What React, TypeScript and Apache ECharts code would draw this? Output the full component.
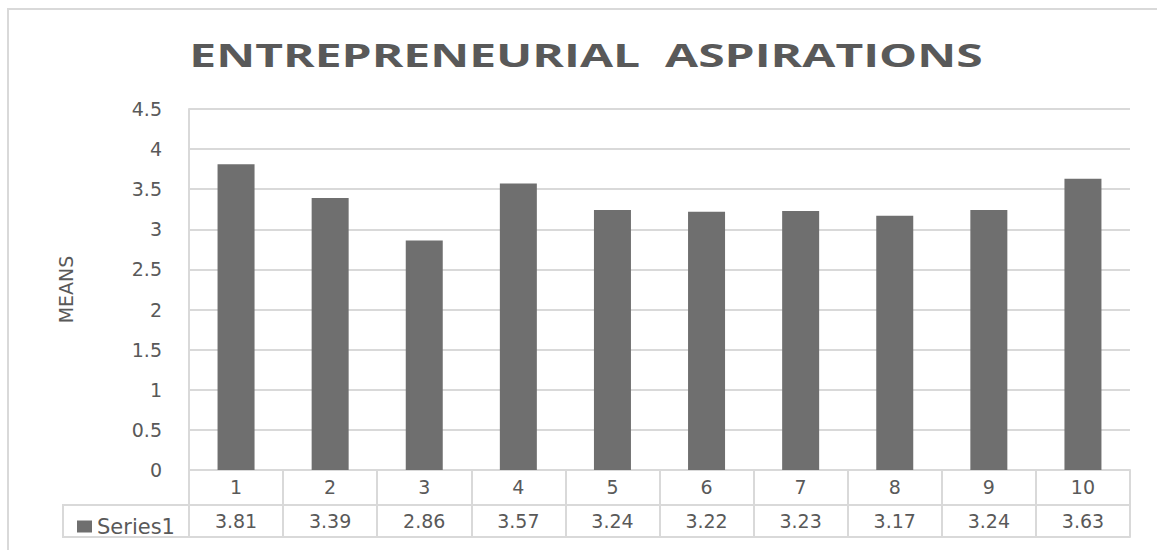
import React, { useEffect, useRef } from "react";
import * as echarts from "echarts";

const categories = ["1", "2", "3", "4", "5", "6", "7", "8", "9", "10"];
const values = [3.81, 3.39, 2.86, 3.57, 3.24, 3.22, 3.23, 3.17, 3.24, 3.63];
const seriesName = "Series1";
const titleText = "ENTREPRENEURIAL  ASPIRATIONS";
const yAxisName = "MEANS";

const W = 1157;
const H = 550;
const GRID_LEFT = 189;
const GRID_RIGHT = 27;
const GRID_TOP = 109;
const GRID_BOTTOM = 80;
const ROW_H = 35;
const ROW2_H = 32;
const TABLE_LEFT = 63;
const TEXT = "#595959";
const LINE = "#d9d9d9";
const BAR = "#6f6f6f";
const FONT = "'DejaVu Sans', 'Open Sans', sans-serif";
const TITLE_FONT = "'Open Sans', 'Noto Sans', sans-serif";
const FS = 19;

export default function App() {
  const ref = useRef<HTMLDivElement>(null);
  useEffect(() => {
    if (!ref.current) return;
    const chart = echarts.init(ref.current, null, { renderer: "svg" });
    const axisY = H - GRID_BOTTOM;
    const row2Top = axisY + ROW_H;
    const row2Bottom = row2Top + ROW2_H;
    chart.setOption({
      animation: false,
      backgroundColor: "#ffffff",
      textStyle: { fontFamily: FONT },
      grid: {
        left: GRID_LEFT,
        right: GRID_RIGHT,
        top: GRID_TOP,
        bottom: GRID_BOTTOM,
        containLabel: false,
        outerBoundsMode: "none",
      },
      legend: {
        show: true,
        data: [seriesName],
        left: 72,
        top: row2Top + 6,
        icon: "rect",
        itemWidth: 15,
        itemHeight: 12,
        itemGap: 6,
        selectedMode: false,
        textStyle: { color: TEXT, fontSize: 21, fontFamily: FONT, padding: [0, 0, 0, 0] },
      },
      xAxis: [
        {
          type: "category",
          data: categories,
          position: "bottom",
          boundaryGap: true,
          axisLine: { show: true, lineStyle: { color: LINE, width: 2 } },
          axisTick: { show: true, length: ROW_H + ROW2_H, lineStyle: { color: LINE, width: 2 } },
          axisLabel: { color: TEXT, fontSize: FS, margin: 7, fontFamily: FONT },
          splitLine: { show: false },
        },
        {
          type: "category",
          data: values.map((v) => v.toFixed(2)),
          position: "bottom",
          offset: ROW_H,
          boundaryGap: true,
          axisLine: { show: true, lineStyle: { color: LINE, width: 2 } },
          axisTick: { show: false },
          axisLabel: { color: TEXT, fontSize: FS, margin: 6, fontFamily: FONT },
          splitLine: { show: false },
        },
        {
          type: "category",
          data: categories,
          position: "bottom",
          offset: ROW_H + ROW2_H,
          boundaryGap: true,
          axisLine: { show: true, lineStyle: { color: LINE, width: 2 } },
          axisTick: { show: false },
          axisLabel: { show: false },
          splitLine: { show: false },
        },
      ],
      yAxis: {
        type: "value",
        min: 0,
        max: 4.5,
        interval: 0.5,
        name: yAxisName,
        nameLocation: "middle",
        nameRotate: 90,
        nameGap: 114,
        nameTextStyle: { color: TEXT, fontSize: 19, fontFamily: FONT },
        axisLine: { show: true, lineStyle: { color: LINE, width: 2 } },
        axisTick: { show: false },
        axisLabel: { color: TEXT, fontSize: FS, margin: 27, fontFamily: FONT },
        splitLine: { show: true, lineStyle: { color: LINE, width: 2 } },
      },
      series: [
        {
          name: seriesName,
          type: "bar",
          data: values,
          xAxisIndex: 0,
          barWidth: 37,
          itemStyle: { color: BAR },
        },
      ],
      graphic: [
        {
          type: "rect",
          silent: true,
          shape: { x: 8, y: 9, width: W + 20, height: H + 20 },
          style: { fill: "none", stroke: LINE, lineWidth: 2 },
        },
        {
          type: "polyline",
          silent: true,
          shape: {
            points: [
              [GRID_LEFT, row2Top],
              [TABLE_LEFT, row2Top],
              [TABLE_LEFT, row2Bottom],
              [GRID_LEFT, row2Bottom],
            ],
          },
          style: { fill: "none", stroke: LINE, lineWidth: 2 },
        },
        {
          type: "text",
          silent: true,
          x: 586,
          y: 54,
          scaleX: 1.5,
          style: {
            text: titleText,
            font: `bold 32px ${TITLE_FONT}`,
            fill: TEXT,
            align: "center",
            verticalAlign: "middle",
          },
        },
      ],
    });
    return () => chart.dispose();
  }, []);
  return (
    <div
      ref={ref}
      style={{ position: "absolute", left: 0, top: 0, width: W, height: H, background: "#fff" }}
    />
  );
}
